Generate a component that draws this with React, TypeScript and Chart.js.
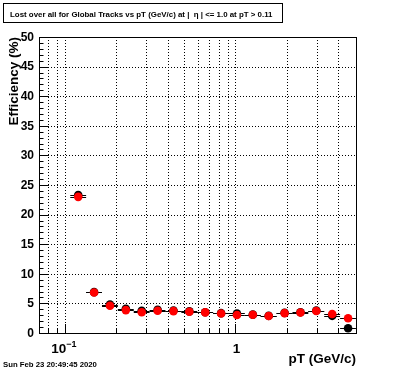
import React, { useEffect, useRef } from "react";
import { Chart, registerables } from "chart.js";

Chart.register(...registerables);

const TITLE = "Lost over all for Global Tracks vs pT (GeV/c) at |  \u03B7 | <= 1.0 at pT > 0.11";
const DATE_TEXT = "Sun Feb 23 20:49:45 2020";
const X_TITLE = "pT (GeV/c)";
const Y_TITLE = "Efficiency (%)";

const ptCenters = [0.1197, 0.1483, 0.1838, 0.2277, 0.2821, 0.3496, 0.4331, 0.5366, 0.6648, 0.8237, 1.0205, 1.264, 1.566, 1.941, 2.405, 2.979, 3.691, 4.573];
const ptEdges = [0.1075, 0.1332, 0.165, 0.2044, 0.2533, 0.3138, 0.3888, 0.4817, 0.5968, 0.7394, 0.9161, 1.135, 1.406, 1.742, 2.159, 2.674, 3.313, 4.105, 5.086];

const redValues = [23.0, 6.85, 4.6, 3.87, 3.5, 3.75, 3.7, 3.6, 3.48, 3.3, 3.05, 3.08, 2.86, 3.35, 3.45, 3.72, 3.22, 2.5];
const redErrors = [0.2, 0.15, 0.12, 0.1, 0.1, 0.1, 0.1, 0.1, 0.1, 0.1, 0.1, 0.12, 0.12, 0.15, 0.2, 0.3, 0.4, 0.6];
const blackValues = [23.3, 6.9, 4.8, 4.1, 3.75, 3.9, 3.8, 3.65, 3.5, 3.35, 3.3, 3.1, 2.9, 3.4, 3.5, 3.8, 2.9, 0.8];
const blackErrors = [0.2, 0.15, 0.12, 0.1, 0.1, 0.1, 0.1, 0.1, 0.1, 0.1, 0.1, 0.12, 0.12, 0.15, 0.2, 0.3, 0.7, 0.6];

const xGridValues = [0.08, 0.09, 0.1, 0.2, 0.3, 0.4, 0.5, 0.6, 0.7, 0.8, 0.9, 1, 2, 3, 4, 5];
const xMajorValues = [0.1, 1];
const xMajorLabels = [["10", "\u22121"], ["1", ""]];
const yMajorValues = [0, 5, 10, 15, 20, 25, 30, 35, 40, 45, 50];
const yMinorStep = 1;

const X_MIN = 0.0705;
const X_MAX = 5.09;
const Y_MIN = 0;
const Y_MAX = 50;

const FONT = "'Liberation Sans', Arial, Helvetica, sans-serif";

function fitFont(ctx: CanvasRenderingContext2D, text: string, width: number) {
  ctx.font = `bold 10px ${FONT}`;
  const w = ctx.measureText(text).width;
  return (10 * width) / w;
}

const rootPlugin = {
  id: "rootStyle",
  beforeDatasetsDraw(chart: any) {
    const ctx: CanvasRenderingContext2D = chart.ctx;
    const xs = chart.scales.x;
    const ys = chart.scales.y;
    const a = chart.chartArea;
    ctx.save();
    ctx.strokeStyle = "#000";
    ctx.lineWidth = 1;
    ctx.setLineDash([1, 2]);
    for (const v of xGridValues) {
      const px = Math.round(xs.getPixelForValue(v)) + 0.5;
      if (px <= a.left + 1 || px >= a.right - 1) continue;
      ctx.beginPath();
      ctx.moveTo(px, a.top);
      ctx.lineTo(px, a.bottom);
      ctx.stroke();
    }
    for (const v of yMajorValues) {
      const py = Math.round(ys.getPixelForValue(v)) + 0.5;
      if (py <= a.top + 1 || py >= a.bottom - 1) continue;
      ctx.beginPath();
      ctx.moveTo(a.left, py);
      ctx.lineTo(a.right, py);
      ctx.stroke();
    }
    ctx.setLineDash([]);
    const series = [
      { vals: blackValues, errs: blackErrors },
      { vals: redValues, errs: redErrors },
    ];
    ctx.strokeStyle = "#000";
    ctx.lineWidth = 1;
    for (const s of series) {
      for (let i = 0; i < s.vals.length; i++) {
        const py = Math.round(ys.getPixelForValue(s.vals[i])) + 0.5;
        const x0 = xs.getPixelForValue(ptEdges[i]);
        const x1 = xs.getPixelForValue(ptEdges[i + 1]);
        const xc = Math.round(xs.getPixelForValue(ptCenters[i])) + 0.5;
        ctx.beginPath();
        ctx.moveTo(x0, py);
        ctx.lineTo(Math.min(x1, a.right), py);
        ctx.stroke();
        const yTop = ys.getPixelForValue(s.vals[i] + s.errs[i]);
        const yBot = ys.getPixelForValue(Math.max(0, s.vals[i] - s.errs[i]));
        ctx.beginPath();
        ctx.moveTo(xc, yTop);
        ctx.lineTo(xc, yBot);
        ctx.stroke();
      }
    }
    ctx.restore();
  },
  afterDraw(chart: any) {
    const ctx: CanvasRenderingContext2D = chart.ctx;
    const xs = chart.scales.x;
    const ys = chart.scales.y;
    const a = chart.chartArea;
    ctx.save();
    ctx.strokeStyle = "#000";
    ctx.lineWidth = 1;
    ctx.strokeRect(Math.round(a.left) + 0.5, Math.round(a.top) + 0.5, Math.round(a.right - a.left), Math.round(a.bottom - a.top));
    for (let v = Y_MIN; v <= Y_MAX; v += yMinorStep) {
      const py = Math.round(ys.getPixelForValue(v)) + 0.5;
      const major = yMajorValues.includes(v);
      ctx.beginPath();
      ctx.moveTo(a.left, py);
      ctx.lineTo(a.left + (major ? 9 : 4.5), py);
      ctx.stroke();
    }
    for (const v of xGridValues) {
      const px = Math.round(xs.getPixelForValue(v)) + 0.5;
      if (px >= a.right - 1) continue;
      const major = xMajorValues.includes(v);
      ctx.beginPath();
      ctx.moveTo(px, a.bottom);
      ctx.lineTo(px, a.bottom - (major ? 9 : 4.5));
      ctx.stroke();
    }
    ctx.fillStyle = "#000";
    ctx.font = `bold 12px ${FONT}`;
    ctx.textAlign = "right";
    ctx.textBaseline = "middle";
    for (const v of yMajorValues) {
      ctx.fillText(String(v), a.left - 5, ys.getPixelForValue(v) + 0.5);
    }
    ctx.textBaseline = "alphabetic";
    for (let i = 0; i < xMajorValues.length; i++) {
      const px = xs.getPixelForValue(xMajorValues[i]);
      const [base, sup] = xMajorLabels[i];
      ctx.font = `bold 13.5px ${FONT}`;
      const wb = ctx.measureText(base).width;
      ctx.font = `bold 9px ${FONT}`;
      const ws = sup ? ctx.measureText(sup).width : 0;
      const start = px - (wb + ws) / 2 + (sup ? -1 : 1);
      ctx.textAlign = "left";
      ctx.font = `bold 13.5px ${FONT}`;
      ctx.fillText(base, start, a.bottom + 20);
      if (sup) {
        ctx.font = `bold 9px ${FONT}`;
        ctx.fillText(sup, start + wb, a.bottom + 14);
      }
    }
    ctx.font = `bold 13.5px ${FONT}`;
    ctx.textAlign = "right";
    ctx.fillText(X_TITLE, a.right, a.bottom + 30);
    ctx.save();
    ctx.translate(18, a.top);
    ctx.rotate(-Math.PI / 2);
    ctx.textAlign = "right";
    ctx.font = `bold 13.5px ${FONT}`;
    ctx.fillText(Y_TITLE, 0, 0);
    ctx.restore();
    ctx.fillStyle = "#fff";
    ctx.fillRect(3, 3, 279, 19);
    ctx.strokeRect(3.5, 3.5, 279, 19);
    ctx.fillStyle = "#000";
    const tf = fitFont(ctx, TITLE, 263);
    ctx.font = `bold ${tf}px ${FONT}`;
    ctx.textAlign = "left";
    ctx.fillText(TITLE, 10, 16.5);
    const df = fitFont(ctx, DATE_TEXT, 94);
    ctx.font = `bold ${df}px ${FONT}`;
    ctx.fillText(DATE_TEXT, 3, 367);
    ctx.restore();
  },
};

export default function App() {
  const ref = useRef<HTMLCanvasElement | null>(null);
  useEffect(() => {
    if (!ref.current) return;
    const chart = new Chart(ref.current, {
      type: "scatter",
      data: {
        datasets: [
          {
            label: "red",
            data: ptCenters.map((x, i) => ({ x, y: redValues[i] })),
            backgroundColor: "#ff0000",
            borderColor: "#ff0000",
            pointRadius: 4.3,
            pointBorderWidth: 0,
            order: 0,
          },
          {
            label: "black",
            data: ptCenters.map((x, i) => ({ x, y: blackValues[i] })),
            backgroundColor: "#000000",
            borderColor: "#000000",
            pointRadius: 4.3,
            pointBorderWidth: 0,
            order: 1,
          },
        ],
      },
      options: {
        animation: false,
        responsive: false,
        devicePixelRatio: 1,
        layout: { padding: { left: 39, right: 40, top: 37, bottom: 39 } },
        plugins: { legend: { display: false }, tooltip: { enabled: false }, title: { display: false } },
        events: [],
        scales: {
          x: { type: "logarithmic", min: X_MIN, max: X_MAX, display: false },
          y: { type: "linear", min: Y_MIN, max: Y_MAX, display: false },
        },
      },
      plugins: [rootPlugin],
    });
    return () => chart.destroy();
  }, []);
  return (
    <div style={{ position: "fixed", left: 0, top: 0, width: 396, height: 372, background: "#fff" }}>
      <canvas ref={ref} width={396} height={372} style={{ display: "block", width: 396, height: 372 }} />
    </div>
  );
}
